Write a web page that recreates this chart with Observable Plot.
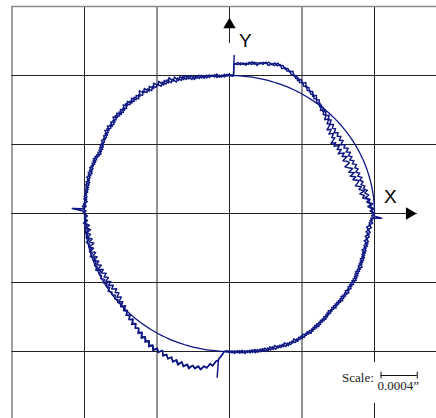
<!DOCTYPE html>
<html><head><meta charset="utf-8">
<script src="https://cdn.jsdelivr.net/npm/d3@7"></script>
<script src="https://cdn.jsdelivr.net/npm/@observablehq/plot@0.6"></script>
<style>html,body{margin:0;padding:0;background:#fff;}svg{display:block;}</style>
</head><body><div id="chart"></div>
<script>
// ---- data (grid units; 1 cell = 0.0008") ----
const gridX = [-3, -2, -1, 0, 1, 2];
const gridY = [3, 2, 1, 0, -1, -2];
const refRadius = 2;
const refArcs = [[0, 90], [180, 270]];           // smooth reference arcs (deg)
const sampleAngles = d3.range(0, 360, 1);          // angles of noisy samples (deg)
// radial deviation from refRadius, in hundredths of a cell, run A (one value per degree)
const devA = [
  0,-6,-3,-9,-4,-10,-6,-15,-12,-18,
  -11,-18,-14,-22,-18,-15,-23,-18,-25,-18,
  -25,-18,-23,-27,-19,-21,-26,-18,-24,-19,
  -27,-20,-25,-19,-26,-21,-27,-18,-21,-15,
  -21,-14,-19,-10,-13,-6,-11,-5,-7,0,
  -5,2,0,6,4,9,5,11,8,13,
  11,17,14,18,14,20,18,24,21,25,
  23,27,25,28,23,25,21,25,21,23,
  18,22,18,21,16,19,16,19,17,1,
  -1,2,-2,1,-2,3,-1,2,-1,3,
  -1,4,0,5,0,7,3,9,4,10,
  5,12,7,14,7,13,7,15,10,16,
  9,15,9,16,11,17,10,14,9,15,
  9,15,10,15,8,13,7,13,8,13,
  6,11,5,11,5,10,3,7,2,6,
  0,4,-2,2,-3,2,-1,4,-1,3,
  0,4,-1,4,-1,4,-1,3,-2,2,
  -2,2,-1,2,-2,1,-1,3,0,2,
  1,-4,0,-4,0,-6,-2,-7,-1,-6,
  -1,-7,-2,-8,-1,-6,0,-7,-2,-7,
  -1,-7,-2,-8,-1,-8,-3,-9,-4,-9,
  -3,-9,-3,-9,-4,-10,-5,-9,-3,-8,
  -1,-5,1,-4,2,-1,5,1,7,3,
  10,6,11,8,15,11,18,14,20,16,
  23,19,25,20,24,19,26,22,27,23,
  29,25,31,25,31,27,32,26,30,26,
  30,24,26,19,22,15,11,6,0,1,
  -1,2,-1,2,-1,3,0,3,0,4,
  0,5,1,5,1,6,1,6,1,6,
  3,7,2,8,4,7,2,8,3,7,
  2,6,2,7,2,5,0,5,0,3,
  -1,3,-2,1,-4,0,-4,1,-4,0,
  -4,1,-5,0,-4,1,-4,0,-5,0,
  -5,0,-5,-1,-7,-2,-6,-1,-7,-3,
  -8,-3,-8,-4,-10,-5,-9,-4,-10,-6,
  -10,-5,-10,-6,-10,-5,-7,-3,-5,-1
];
// run B
const devB = [
  0,-4,-1,-6,-2,-8,-5,-11,-6,-11,
  -7,-12,-9,-14,-10,-14,-10,-15,-11,-16,
  -11,-15,-11,-16,-12,-17,-12,-16,-11,-16,
  -11,-16,-12,-17,-11,-15,-10,-14,-10,-14,
  -9,-12,-7,-11,-5,-8,-2,-6,-1,-4,
  1,-2,3,0,5,3,8,6,10,8,
  13,11,15,13,18,16,20,18,23,21,
  25,22,27,24,27,23,26,23,24,21,
  22,19,22,18,19,17,19,16,17,-1,
  2,-1,2,-2,1,-2,2,0,3,-1,
  3,0,5,1,5,1,7,3,9,4,
  9,4,10,6,12,7,12,7,12,9,
  13,8,13,9,14,9,13,8,14,9,
  13,9,14,8,12,7,12,7,12,7,
  10,5,9,5,9,4,7,2,5,1,
  4,-1,3,-2,2,-2,3,-1,3,-1,
  3,-1,3,-2,3,-1,2,-2,3,-2,
  2,-2,2,-2,2,-3,2,-2,2,-2,
  1,-3,0,-2,2,-3,0,-4,1,-2,
  1,-3,2,-2,0,-3,1,-2,2,-3,
  0,-3,1,-2,2,-4,0,-2,1,-3,
  1,-3,0,-3,2,-2,0,-3,1,-2,
  1,-2,2,-1,3,0,5,2,7,3,
  8,5,11,8,13,10,16,13,18,15,
  21,18,23,19,24,19,25,22,27,23,
  28,24,29,25,30,26,30,26,29,25,
  29,24,26,20,22,15,11,6,0,-1,
  2,-1,3,-1,3,-1,4,0,4,0,
  5,1,5,1,6,2,6,2,7,3,
  7,3,8,4,8,4,8,4,7,3,
  7,3,6,2,6,1,5,0,4,-1,
  3,-2,2,-3,1,-3,0,-4,0,-4,
  0,-4,0,-4,0,-5,-1,-5,-1,-5,
  -1,-5,-1,-6,-2,-6,-2,-7,-3,-7,
  -3,-7,-4,-8,-4,-8,-4,-8,-4,-8,
  -4,-8,-4,-8,-3,-7,-2,-6,-1,-4
];
// reversal steps and spikes [angle, deviation]
const stepsA = [[88.4,17],[88.4,29],[88.4,17],[88.4,0],[178.1,17],[265.9,13],[265.9,38],[265.9,13],[358.1,10]];
const stepsB = [[88.4,17],[88.4,0],[265.9,13]];
const scaleLabel = "Scale:";
const scaleValue = "0.0004\u201D";
const scaleLength = 0.5; // cells

// ---- build ----
const rad = d => d * Math.PI / 180;
function run(name, devs, steps) {
  const pts = sampleAngles.map((a, i) => [a, devs[i]]).concat(steps);
  pts.sort((p, q) => p[0] - q[0]);
  pts.push([360, devs[0]]);
  return pts.map(([a, d]) => {
    const r = refRadius + d / 100;
    return {run: name, x: r * Math.cos(rad(a)), y: r * Math.sin(rad(a))};
  });
}
const noisy = run("A", devA, stepsA).concat(run("B", devB, stepsB));
const smooth = refArcs.flatMap(([a0, a1], k) =>
  d3.range(a0, a1 + 0.01, 1).map(a => ({arc: k, x: refRadius * Math.cos(rad(a)), y: refRadius * Math.sin(rad(a))})));

// layout: 72.5 px per cell horizontally, 69 px per cell vertically
const W = 436, H = 418;
const xDom = [-229 / 72.5, 207 / 72.5];
const yDom = [-205 / 69, 213 / 69];
const yBot = yDom[0] - 0.1, xRight = xDom[1] + 0.1;
const axisTip = 2.59;

const vSeg = [];
gridX.forEach(u => {
  const c = u === gridX[0] ? "#8a8a8a" : "#222";
  if (u === 0) { vSeg.push({x: u, y1: yBot, y2: 2.03, c}); vSeg.push({x: u, y1: 2.464, y2: 3, c}); }
  else if (u === 2) { vSeg.push({x: u, y1: yBot, y2: -2.754, c}); vSeg.push({x: u, y1: -2.159, y2: 3, c}); }
  else vSeg.push({x: u, y1: yBot, y2: 3, c});
});
const hSeg = gridY.map(v => ({y: v, x1: -3, x2: v === 0 ? axisTip : xRight, c: v === gridY[0] ? "#8a8a8a" : "#222"}));

const serif = "'Liberation Serif', 'Times New Roman', serif";
const sans = "'Liberation Sans', Arial, sans-serif";
const navy = "#101883";

const chart = Plot.plot({
  width: W, height: H, margin: 0,
  x: {domain: xDom, axis: null},
  y: {domain: yDom, axis: null},
  marks: [
    Plot.ruleX(vSeg, {x: "x", y1: "y1", y2: "y2", stroke: d => d.c, strokeWidth: d => d.c === "#222" ? 1 : 1.6}),
    Plot.ruleY(hSeg, {y: "y", x1: "x1", x2: "x2", stroke: d => d.c, strokeWidth: d => d.c === "#222" ? 1 : 1.6}),
    Plot.line(smooth, {x: "x", y: "y", z: "arc", stroke: navy, strokeWidth: 1.3}),
    Plot.line(noisy, {x: "x", y: "y", z: "run", stroke: navy, strokeWidth: 1.45, strokeLinejoin: "round"}),
    Plot.dot([{x: 0, y: 2.735}], {x: "x", y: "y", symbol: "triangle", r: 4.6, fill: "#000", stroke: null}),
    Plot.dot([{x: 2.483, y: 0}], {x: "x", y: "y", symbol: "triangle", r: 4.6, rotate: 90, fill: "#000", stroke: null}),
    Plot.text(["Y"], {x: 0.22, y: 2.507, text: d => d, fontSize: 19, fontFamily: sans, fill: "#000"}),
    Plot.text(["X"], {x: 2.22, y: 0.246, text: d => d, fontSize: 19, fontFamily: sans, fill: "#000"}),
    Plot.text([scaleLabel], {x: 1.99, y: -2.377, text: d => d, textAnchor: "end", fontSize: 13, fontFamily: serif, fill: "#222"}),
    Plot.text([scaleValue], {x: 2.04, y: -2.50, text: d => d, textAnchor: "start", fontSize: 13, fontFamily: serif, fill: "#222"}),
    Plot.ruleY([-2.348], {x1: 2.09, x2: 2.09 + scaleLength, stroke: "#111", strokeWidth: 1}),
    Plot.ruleX([2.09, 2.09 + scaleLength], {x: d => d, y1: -2.30, y2: -2.40, stroke: "#111", strokeWidth: 1})
  ]
});
document.getElementById("chart").appendChild(chart);
</script>
</body></html>
